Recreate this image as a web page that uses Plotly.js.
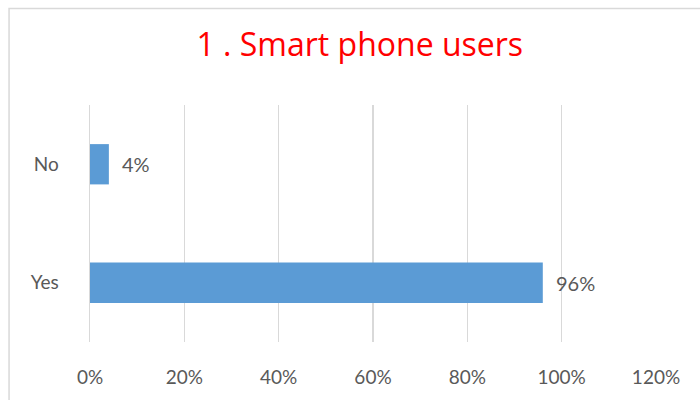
<!DOCTYPE html>
<html><head><meta charset="utf-8">
<script src="https://cdn.plot.ly/plotly-3.0.1.min.js"></script>
<style>html,body{margin:0;padding:0;background:#fff;}#chart{width:700px;height:400px;}</style>
</head><body><div id="chart"></div>
<script>
const categories = ["Yes", "No"];
const shares = [0.96, 0.04];
const labels = ["96%", "4%"];
const tickVals = [0, 0.2, 0.4, 0.6, 0.8, 1.0, 1.2];
const tickText = ["0%", "20%", "40%", "60%", "80%", "100%", "120%"];

const font = "Lato, 'Open Sans', sans-serif";
const grey = "#595959";

const trace = {
  type: "bar", orientation: "h",
  x: shares, y: categories,
  marker: {color: "#5B9BD5"},
  width: 0.34, hoverinfo: "skip"
};

const annotations = categories.map((c, i) => ({
  x: shares[i], y: c, xref: "x", yref: "y",
  text: labels[i], showarrow: false, xanchor: "left", xshift: 11,
  font: {family: font, size: 20, color: grey}
}));

const layout = {
  width: 700, height: 400,
  margin: {l: 89.5, r: 44, t: 105, b: 58},
  paper_bgcolor: "#fff", plot_bgcolor: "#fff",
  title: {text: "1 . Smart phone users", x: 0.514, xref: "container", xanchor: "center",
          y: 0.888, yref: "container", yanchor: "middle",
          font: {family: "'Open Sans', sans-serif", size: 32, color: "#FF0000"}},
  showlegend: false,
  xaxis: {range: [0, 1.2], tickvals: tickVals, ticktext: tickText, showgrid: true,
          gridcolor: "#d9d9d9", gridwidth: 1.5, zeroline: false, showline: false, ticks: "",
          ticklabelstandoff: 22, tickfont: {family: font, size: 19, color: grey}, fixedrange: true},
  yaxis: {categoryorder: "array", categoryarray: categories, range: [-0.5, 1.5],
          showgrid: false, zeroline: false, showline: true, linecolor: "#d9d9d9", linewidth: 1.5,
          ticks: "", ticklabelstandoff: 26, tickfont: {family: font, size: 19, color: grey}, fixedrange: true},
  annotations: annotations,
  shapes: [{type: "rect", xref: "paper", yref: "paper",
            x0: -0.143, x1: 1.09, y0: -0.27, y1: 1.407,
            line: {color: "#d9d9d9", width: 1.5}, fillcolor: "rgba(0,0,0,0)", layer: "below"}]
};

Plotly.newPlot("chart", [trace], layout, {displayModeBar: false, staticPlot: true});
</script></body></html>
